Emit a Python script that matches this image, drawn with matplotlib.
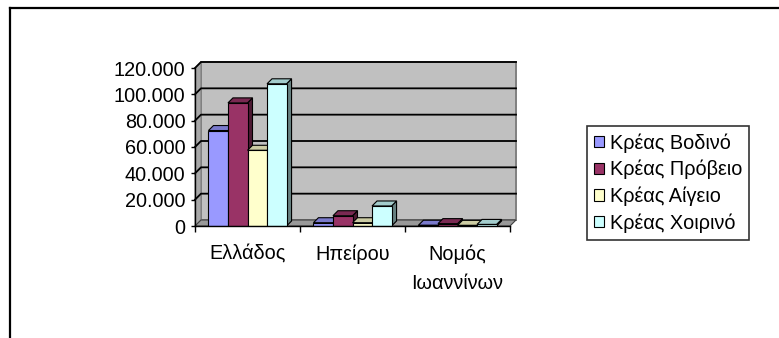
import matplotlib
matplotlib.use("Agg")
import matplotlib.pyplot as plt
from matplotlib.patches import Polygon
from matplotlib.lines import Line2D
import numpy as np

# ─── Data ───────────────────────────────────────────────────────────
categories = ["Ελλάδος", "Ηπείρου", "Νομός\nΙωαννίνων"]
series_names = ["Κρέας Βοδινό", "Κρέας Πρόβειο", "Κρέας Αίγειο", "Κρέας Χοιρινό"]
vodino = [72500, 2500, 600]
provio = [93500, 7800, 1800]
aigio = [57500, 2500, 500]
xoirino = [108000, 15200, 1200]
series_values = [vodino, provio, aigio, xoirino]
y_ticks = [0, 20000, 40000, 60000, 80000, 100000, 120000]

# ─── Style ──────────────────────────────────────────────────────────
front_colors = ["#9999FF", "#993366", "#FFFFCC", "#CCFFFF"]


def shade(hex_color, f):
    c = np.array(matplotlib.colors.to_rgb(hex_color)) * f
    return tuple(c)


plt.rcParams["font.family"] = ["Liberation Sans", "DejaVu Sans"]
FS = 14.3

W, H = 779, 338
fig = plt.figure(figsize=(W / 100, H / 100), dpi=100)
ax = fig.add_axes([195 / W, 1 - 226 / H, 315 / W, 158 / H])
ax.set_xlim(0, len(categories))
ax.set_ylim(0, 120000)
ax.set_facecolor("none")

# depth offsets (data units) for wall and bars
px_x = len(categories) / 315.0
px_y = 120000 / 158.0
wdx, wdy = 6 * px_x, 6 * px_y
bdx, bdy = 5 * px_x, 5 * px_y
ymax = 120000
ncat = len(categories)

# back wall, side wall, floor
ax.add_patch(Polygon([(wdx, wdy), (ncat + wdx, wdy), (ncat + wdx, ymax + wdy), (wdx, ymax + wdy)],
                     closed=True, facecolor="#C0C0C0", edgecolor="#808080", lw=1.4,
                     clip_on=False, zorder=0.5))
ax.add_patch(Polygon([(0, 0), (wdx, wdy), (wdx, ymax + wdy), (0, ymax)],
                     closed=True, facecolor="#A8A8A8", edgecolor="#808080", lw=0.8,
                     clip_on=False, zorder=0.6))
ax.add_patch(Polygon([(0, 0), (ncat, 0), (ncat + wdx, wdy), (wdx, wdy)],
                     closed=True, facecolor="#999999", edgecolor="#404040", lw=0.8,
                     clip_on=False, zorder=0.6))
for v in y_ticks[1:]:
    ax.add_line(Line2D([0, wdx, ncat + wdx], [v, v + wdy, v + wdy], color="black",
                       lw=1.3, clip_on=False, zorder=0.7))

# bars
nser = len(series_values)
bw = 0.186
start = 0.5 - nser * bw / 2
for ci in range(ncat):
    for si in range(nser):
        h = series_values[si][ci]
        x0 = ci + start + si * bw
        col = front_colors[si]
        z = 2 + si * 0.01
        ax.add_patch(Polygon([(x0 + bw, 0), (x0 + bw + bdx, bdy), (x0 + bw + bdx, h + bdy), (x0 + bw, h)],
                             closed=True, facecolor=shade(col, 0.5), edgecolor="black",
                             lw=0.8, clip_on=False, zorder=z))
        ax.add_patch(Polygon([(x0, h), (x0 + bw, h), (x0 + bw + bdx, h + bdy), (x0 + bdx, h + bdy)],
                             closed=True, facecolor=shade(col, 0.8), edgecolor="black",
                             lw=0.8, clip_on=False, zorder=z))
        ax.bar(x0, h, width=bw, align="edge", color=col, edgecolor="black",
               linewidth=0.8, zorder=z + 0.005,
               label=series_names[si] if ci == 0 else None)

# axes
for s in ["top", "right"]:
    ax.spines[s].set_visible(False)
for s in ["left", "bottom"]:
    ax.spines[s].set_color("black")
    ax.spines[s].set_linewidth(1.0)
    ax.spines[s].set_zorder(3)

ax.set_yticks(y_ticks)
ax.set_yticklabels([f"{v:,.0f}".replace(",", ".") for v in y_ticks], fontsize=FS)
ax.tick_params(axis="y", direction="out", length=3, width=1, pad=4, colors="black")

ax.set_xticks([i + 0.5 for i in range(ncat)])
ax.set_xticklabels(categories, fontsize=FS, linespacing=1.7)
ax.set_xticks(list(range(ncat + 1)), minor=True)
ax.tick_params(axis="x", which="major", length=0, pad=13)
ax.tick_params(axis="x", which="minor", direction="out", length=4, width=1)

# legend
leg = ax.legend(loc="center", bbox_to_anchor=(668 / W, 1 - 183 / H),
                bbox_transform=fig.transFigure, fontsize=FS, frameon=True,
                fancybox=False, shadow=False, handlelength=0.5, handleheight=0.5,
                handletextpad=0.3, labelspacing=0.36, borderpad=0.35, borderaxespad=0)
leg.get_frame().set_edgecolor("black")
leg.get_frame().set_linewidth(1.2)

# chart area border (top and left only visible)
fig.add_artist(Line2D([10 / W, 1], [1 - 8 / H, 1 - 8 / H], transform=fig.transFigure,
                      color="black", lw=1.6))
fig.add_artist(Line2D([10 / W, 10 / W], [0, 1 - 8 / H], transform=fig.transFigure,
                      color="black", lw=1.6))

fig.savefig("out.png", dpi=100)
